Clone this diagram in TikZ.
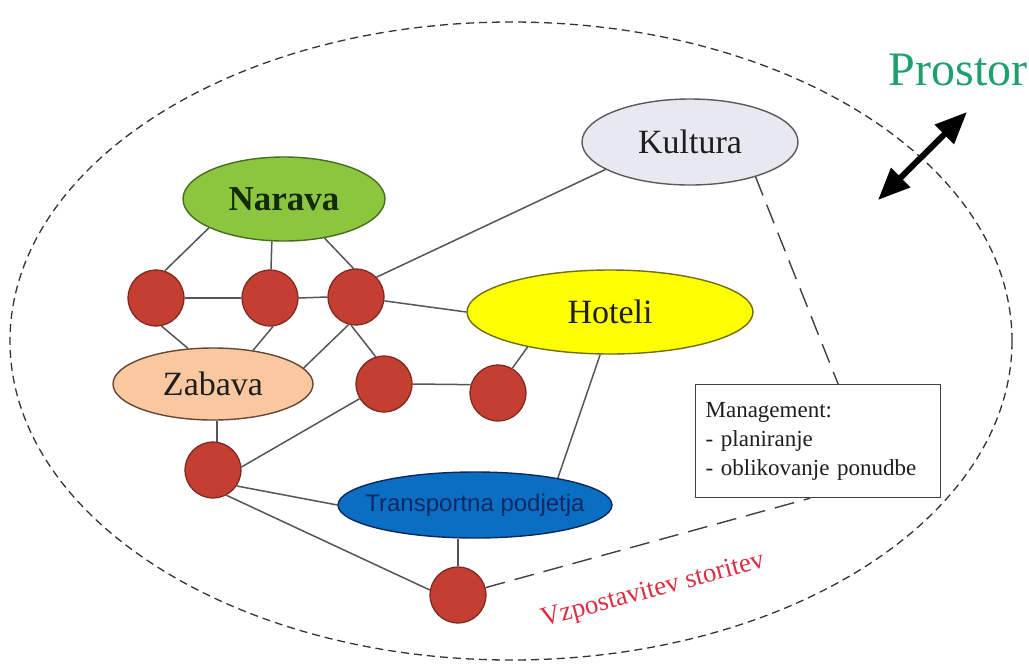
\documentclass[tikz,border=0pt]{standalone}
\usepackage{fontspec}
\setmainfont{Liberation Serif}
\newfontfamily\sansfont{Liberation Sans}
\usetikzlibrary{arrows.meta,shapes.geometric}

\definecolor{hubfill}{RGB}{196,62,50}
\definecolor{hubedge}{RGB}{120,40,30}
\definecolor{narfill}{RGB}{140,198,63}
\definecolor{naredge}{RGB}{70,110,30}
\definecolor{nartext}{RGB}{20,40,10}
\definecolor{kultfill}{RGB}{232,232,240}
\definecolor{kultedge}{RGB}{90,90,90}
\definecolor{hotfill}{RGB}{255,255,0}
\definecolor{hotedge}{RGB}{110,110,20}
\definecolor{zabfill}{RGB}{250,200,160}
\definecolor{zabedge}{RGB}{100,70,50}
\definecolor{trfill}{RGB}{10,110,195}
\definecolor{tredge}{RGB}{15,40,90}
\definecolor{trtext}{RGB}{20,40,100}
\definecolor{prostorc}{RGB}{30,160,110}
\definecolor{svc}{RGB}{220,45,65}
\definecolor{linkgray}{RGB}{85,85,85}
\definecolor{inktext}{RGB}{30,30,30}

\begin{document}
\begin{tikzpicture}[x=1pt,y=-1pt,
  hub/.style={circle, draw=hubedge, fill=hubfill, line width=1.2pt,
    minimum size=56pt, inner sep=0pt},
  topic/.style={ellipse, draw, line width=1.4pt, inner sep=0pt,
    text=inktext, font=\fontsize{34}{40}\selectfont},
  link/.style={draw=linkgray, line width=1.5pt},
  plan/.style={draw=black!75, line width=1.4pt, dash pattern=on 20pt off 10pt},
  border/.style={ellipse, draw=black!80, line width=1.3pt,
    dash pattern=on 8pt off 5pt, inner sep=0pt}
]
\useasboundingbox (0,0) rectangle (1029,665);

% surrounding space
\node[border, minimum width=1002pt, minimum height=638pt] (space) at (511,341) {};

% thematic areas
\node[topic, fill=kultfill, draw=kultedge, minimum width=216pt, minimum height=86pt] (kul) at (690,142) {Kultura};
\node[topic, fill=narfill, draw=naredge, minimum width=202pt, minimum height=84pt,
  font=\fontsize{35}{40}\selectfont\bfseries, text=nartext] (nar) at (284,199) {Narava};
\node[topic, fill=hotfill, draw=hotedge, minimum width=286pt, minimum height=84pt] (hot) at (610,312) {Hoteli};
\node[topic, fill=zabfill, draw=zabedge, minimum width=200pt, minimum height=72pt] (zab) at (213,384) {Zabava};
\node[topic, fill=trfill, draw=tredge, minimum width=274pt, minimum height=66pt, inner xsep=-30pt,
  font=\sansfont\fontsize{24}{28}\selectfont, text=trtext] (tr) at (475,505) {Transportna podjetja};

% service hubs
\node[hub] (c1) at (156,298) {};
\node[hub] (c2) at (270,298) {};
\node[hub] (c3) at (356,297) {};
\node[hub] (c4) at (384,384) {};
\node[hub] (c5) at (498,393) {};
\node[hub] (c6) at (213,470) {};
\node[hub] (c7) at (458,595) {};

% management box
\node[draw=black!75, line width=1.2pt, fill=white, minimum width=245pt, minimum height=113pt,
  inner xsep=10pt, text width=225pt, align=left, anchor=north west,
  text=inktext, font=\fontsize{23}{29}\selectfont] (mg) at (695,384)
  {Management:\\- planiranje\\- oblikovanje ponudbe};

% links of the network
\draw[link] (nar.201) -- (c1.72);
\draw[link] (nar.-106) -- (c2.88);
\draw[link] (nar.-44) -- (c3.95);
\draw[link] (c1.east) -- (c2.west);
\draw[link] (c2.east) -- (c3.west);
\draw[link] (c1.-79) -- (zab.125);
\draw[link] (c2.-84) -- (zab.40);
\draw[link] (c3.-105) -- (zab.10);
\draw[link] (c3.-100) -- (c4.107);
\draw[link] (c3.44) -- (kul.198);
\draw[link] (c3) -- (hot.west);
\draw[link] (c4.east) -- (c5.163);
\draw[link] (c5.60) -- (hot.203);
\draw[link] (c4.211) -- (c6.6);
\draw[link] (c6.82) -- (c6.82 |- zab.south);
\draw[link] (c6.-34) -- (tr.west);
\draw[link] (c6.-62) -- (c7.170);
\draw[link] (c7.north) -- (c7.north |- tr.south);
\draw[link] (hot.-103) -- (tr.18);

% management relations
\draw[plan] (kul.-28) -- ([xshift=20pt]mg.north);
\draw[plan] (c7.15) -- ([xshift=-8pt]mg.south);

% labels
\node[font=\fontsize{48}{52}\selectfont, text=prostorc] (pr) at (958,70) {Prostor};
\node[rotate=15, font=\fontsize{27}{30}\selectfont, text=svc] (vz) at (653,591) {Vzpostavitev storitev};

% exchange with the space
\coordinate (ra) at (878,200);
\coordinate (rb) at (967,112);
\draw[line width=6pt, {Triangle[length=32pt,width=26pt]}-{Triangle[length=32pt,width=26pt]}] (ra) -- (rb);
\end{tikzpicture}
\end{document}
